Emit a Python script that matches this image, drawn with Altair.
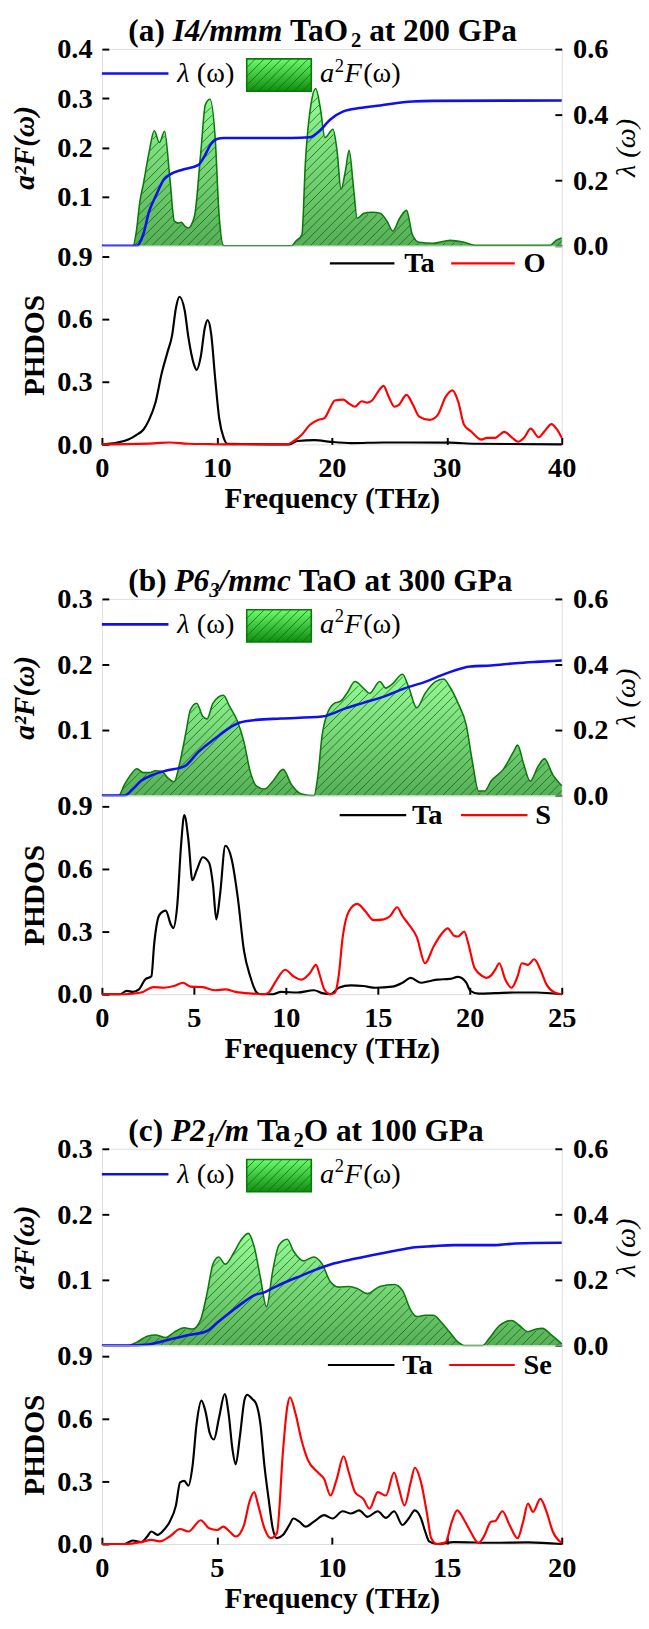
import numpy as np
import pandas as pd
import altair as alt

FONT = "Liberation Serif"
W, HT, HB = 470, 201, 203

# ------------------------- data -------------------------
# (a) I4/mmm TaO2 at 200 GPa
a_a2f_x = [0, 2.7, 3.0, 3.3, 3.6, 4.1, 4.55, 5.0, 5.45, 5.9, 6.3, 6.65, 6.9, 7.2, 7.5, 8.05, 8.6, 9.0, 9.4,
           9.85, 10.2, 10.6, 16.5, 16.9, 17.4, 17.7, 18.2, 18.6, 19.0, 19.4, 20.1, 20.45, 20.8, 21.2, 21.5,
           21.9, 22.2, 22.8, 23.5, 24.2, 24.8, 25.3, 25.9, 26.5, 27.0, 27.6, 28.8, 30.3, 31.5, 32.5, 39.0, 39.5, 40]
a_a2f_y = [0, 0, 0.03, 0.09, 0.125, 0.19, 0.234, 0.21, 0.233, 0.14, 0.05, 0.046, 0.048, 0.04, 0.036, 0.06,
           0.19, 0.287, 0.298, 0.22, 0.06, 0, 0, 0.01, 0.023, 0.17, 0.29, 0.32, 0.28, 0.22, 0.237, 0.194,
           0.115, 0.155, 0.194, 0.115, 0.056, 0.066, 0.068, 0.066, 0.05, 0.03, 0.056, 0.072, 0.023, 0.007,
           0.005, 0.011, 0.007, 0.001, 0.001, 0.011, 0.016]
a_lam_x = [0, 3.05, 3.6, 4.1, 4.7, 5.4, 5.9, 7.0, 8.4, 8.9, 9.5, 10.0, 10.6, 13.0, 16.5, 18.1, 18.8, 19.9,
           21.0, 22.4, 24.2, 27.0, 28.8, 40]
a_lam_y = [0, 0, 0.035, 0.104, 0.153, 0.203, 0.217, 0.232, 0.247, 0.272, 0.311, 0.326, 0.329, 0.329, 0.329,
           0.331, 0.346, 0.386, 0.41, 0.42, 0.428, 0.44, 0.442, 0.443]
a_ta_x = [0, 1.25, 2.3, 3.05, 3.6, 4.1, 4.66, 5.2, 5.7, 6.1, 6.45, 6.74, 7.2, 7.5, 8.0, 8.24, 8.6, 8.96, 9.2,
          9.5, 9.86, 10.2, 10.6, 10.9, 16.3, 17.0, 18.5, 19.9, 21.7, 24.5, 26.7, 30.3, 32.5, 40]
a_ta_y = [0, 0.008, 0.023, 0.047, 0.07, 0.117, 0.2, 0.34, 0.44, 0.52, 0.656, 0.706, 0.64, 0.52, 0.383, 0.356,
          0.42, 0.56, 0.594, 0.53, 0.31, 0.125, 0.03, 0.003, 0, 0.016, 0.02, 0.012, 0.006, 0.009, 0.009,
          0.008, 0.003, 0]
a_o_x = [0, 4.5, 5.9, 7.5, 9.5, 10.5, 16.1, 16.7, 17.4, 18.1, 18.8, 19.35, 19.9, 20.25, 21.0, 21.5, 22.0,
         22.6, 23.1, 23.5, 24.0, 24.5, 24.9, 25.45, 25.8, 26.5, 27.05, 27.6, 28.5, 29.2, 29.9, 30.5, 31.0,
         31.5, 32.1, 33.0, 33.5, 34.2, 35.0, 35.7, 36.2, 36.7, 37.3, 38.0, 38.5, 39.1, 39.6, 40]
a_o_y = [0, 0.005, 0.009, 0.003, 0.001, 0, 0, 0.016, 0.047, 0.094, 0.117, 0.125, 0.18, 0.21, 0.214, 0.195,
         0.18, 0.206, 0.2, 0.21, 0.25, 0.28, 0.234, 0.18, 0.1875, 0.237, 0.19, 0.133, 0.117, 0.14, 0.227,
         0.258, 0.203, 0.094, 0.0625, 0.023, 0.031, 0.031, 0.06, 0.031, 0.0125, 0.03, 0.075, 0.034, 0.0625,
         0.097, 0.07, 0.031]

# (b) P6_3/mmc TaO at 300 GPa
b_a2f_x = [0, 0.9, 1.23, 1.57, 1.9, 2.24, 2.57, 2.91, 3.25, 3.58, 3.92, 4.25, 4.59, 4.81, 5.15, 5.48, 5.71,
           6.04, 6.6, 6.94, 7.39, 7.72, 8.06, 8.39, 8.84, 9.29, 9.85, 10.3, 10.85, 11.53, 11.75, 11.97, 12.2,
           12.65, 12.98, 13.32, 13.76, 14.21, 14.55, 15.11, 15.44, 15.78, 16.34, 16.67, 17.12, 17.57, 18.13,
           18.58, 18.91, 19.36, 19.81, 20.14, 20.48, 20.81, 21.15, 21.82, 22.38, 22.6, 22.94, 23.28, 23.72,
           24.06, 24.51, 25]
b_a2f_y = [0, 0, 0.017, 0.032, 0.041, 0.035, 0.035, 0.038, 0.037, 0.027, 0.021, 0.052, 0.1, 0.131, 0.141,
           0.121, 0.117, 0.141, 0.153, 0.136, 0.112, 0.082, 0.037, 0.015, 0.01, 0.022, 0.04, 0.017, 0.0025, 0,
           0.032, 0.092, 0.121, 0.141, 0.144, 0.156, 0.174, 0.164, 0.156, 0.174, 0.164, 0.17, 0.185, 0.166,
           0.134, 0.156, 0.174, 0.178, 0.166, 0.141, 0.107, 0.052, 0.007, 0.007, 0.022, 0.04, 0.067, 0.077,
           0.047, 0.022, 0.045, 0.056, 0.032, 0.015]
b_lam_x = [0, 1.23, 1.68, 2.13, 2.8, 3.47, 4.48, 5.26, 6.15, 6.83, 7.5, 8.39, 9.74, 11.97, 12.42, 13.09,
           14.21, 15.33, 16.45, 17.57, 18.69, 20.03, 21.15, 22.49, 23.61, 25]
b_lam_y = [0, 0, 0.02, 0.045, 0.064, 0.076, 0.089, 0.134, 0.174, 0.203, 0.223, 0.231, 0.235, 0.241, 0.248,
           0.263, 0.283, 0.302, 0.327, 0.347, 0.372, 0.394, 0.397, 0.404, 0.408, 0.412]
b_ta_x = [0, 1.0, 1.34, 1.68, 2.01, 2.35, 2.69, 2.84, 3.13, 3.47, 3.74, 3.87, 4.1, 4.3, 4.48, 4.7, 4.92, 5.15,
          5.48, 5.82, 6.04, 6.22, 6.42, 6.71, 7.05, 7.39, 7.72, 8.06, 8.39, 8.62, 9.29, 9.74, 10.63, 11.53,
          11.97, 12.42, 12.87, 13.54, 14.21, 14.88, 15.78, 16.34, 16.79, 17.35, 17.79, 18.24, 18.91, 19.36,
          19.81, 20.03, 20.48, 21.37, 22.49, 23.61, 25]
b_ta_y = [0, 0, 0.016, 0.011, 0.023, 0.07, 0.086, 0.24, 0.38, 0.40, 0.335, 0.316, 0.43, 0.71, 0.857, 0.74,
          0.545, 0.592, 0.655, 0.63, 0.522, 0.358, 0.475, 0.71, 0.647, 0.46, 0.21, 0.086, 0.011, 0, 0, 0.011,
          0.008, 0.019, 0.005, 0, 0.031, 0.042, 0.039, 0.031, 0.036, 0.055, 0.078, 0.055, 0.062, 0.07, 0.073,
          0.083, 0.055, 0.016, 0.003, 0.005, 0.008, 0.008, 0]
b_s_x = [0, 1.23, 2.13, 2.8, 3.36, 3.92, 4.41, 4.81, 5.48, 6.15, 6.71, 7.27, 8.17, 8.84, 9.06, 9.51, 9.96,
         10.41, 10.85, 11.3, 11.64, 11.86, 12.09, 12.42, 12.65, 12.87, 13.09, 13.43, 13.88, 14.32, 14.77,
         15.33, 15.67, 16.05, 16.34, 16.67, 17.12, 17.57, 18.02, 18.46, 18.8, 19.14, 19.36, 19.7, 19.92,
         20.26, 20.7, 20.88, 21.15, 21.4, 21.6, 21.93, 22.27, 22.6, 22.83, 23.16, 23.5, 23.84, 24.17, 24.62, 25]
b_s_y = [0, 0, 0.008, 0.034, 0.031, 0.039, 0.055, 0.036, 0.034, 0.019, 0.023, 0.011, 0.003, 0, 0.008, 0.07,
         0.117, 0.086, 0.07, 0.10, 0.14, 0.086, 0.023, 0, 0.005, 0.086, 0.273, 0.397, 0.432, 0.397, 0.354,
         0.358, 0.374, 0.416, 0.374, 0.335, 0.273, 0.148, 0.226, 0.288, 0.315, 0.28, 0.276, 0.3, 0.242, 0.125,
         0.086, 0.078, 0.089, 0.12, 0.148, 0.07, 0.031, 0.086, 0.148, 0.14, 0.167, 0.117, 0.047, 0.008, 0]

# (c) P2_1/m Ta2O at 100 GPa
c_a2f_x = [0, 1.16, 1.52, 1.97, 2.33, 2.78, 3.13, 3.58, 3.94, 4.3, 4.57, 4.83, 5.07, 5.37, 5.73, 6.0, 6.36,
           6.62, 6.89, 7.16, 7.43, 7.7, 8.06, 8.33, 8.77, 9.22, 9.58, 9.94, 10.3, 10.74, 11.1, 11.55, 12.09,
           12.71, 13.07, 13.43, 13.7, 14.06, 14.41, 14.77, 15.13, 15.49, 15.76, 16.56, 16.83, 17.28, 17.82,
           18.17, 18.53, 18.89, 19.16, 19.52, 20]
c_a2f_y = [0, 0, 0.005, 0.014, 0.016, 0.012, 0.02, 0.027, 0.025, 0.04, 0.079, 0.124, 0.135, 0.124, 0.141,
           0.158, 0.171, 0.151, 0.104, 0.059, 0.114, 0.153, 0.162, 0.144, 0.129, 0.135, 0.124, 0.097, 0.089,
           0.09, 0.087, 0.079, 0.09, 0.093, 0.084, 0.054, 0.044, 0.046, 0.046, 0.035, 0.02, 0.005, 0, 0, 0.01,
           0.03, 0.038, 0.03, 0.021, 0.025, 0.026, 0.017, 0.0025]
c_lam_x = [0, 1.16, 1.88, 2.78, 3.67, 4.57, 5.01, 5.64, 6.18, 6.62, 7.07, 7.52, 8.15, 8.68, 9.22, 9.94, 10.83,
           11.73, 12.62, 13.52, 14.41, 15.31, 17.1, 17.99, 20]
c_lam_y = [0, 0, 0.002, 0.015, 0.03, 0.044, 0.069, 0.104, 0.133, 0.153, 0.162, 0.178, 0.198, 0.213, 0.229,
           0.247, 0.262, 0.275, 0.287, 0.299, 0.303, 0.306, 0.306, 0.311, 0.313]
c_ta_x = [0, 0.98, 1.34, 1.7, 1.97, 2.15, 2.42, 2.69, 2.95, 3.22, 3.4, 3.58, 3.76, 3.94, 4.12, 4.33, 4.51,
          4.69, 4.87, 5.1, 5.34, 5.51, 5.68, 5.82, 6.0, 6.21, 6.32, 6.54, 6.71, 6.89, 7.07, 7.25, 7.43, 7.61,
          7.88, 8.15, 8.33, 8.59, 8.86, 9.22, 9.67, 10.03, 10.47, 10.83, 11.19, 11.55, 12.0, 12.35, 12.71,
          13.07, 13.34, 13.61, 13.88, 14.06, 14.23, 14.59, 15.31, 17.1, 18.53, 20]
c_ta_y = [0, 0, 0.017, 0.009, 0.036, 0.06, 0.044, 0.067, 0.107, 0.185, 0.295, 0.302, 0.279, 0.373, 0.577,
          0.686, 0.631, 0.53, 0.5, 0.608, 0.717, 0.624, 0.451, 0.381, 0.514, 0.694, 0.714, 0.694, 0.67, 0.577,
          0.373, 0.216, 0.075, 0.028, 0.044, 0.091, 0.122, 0.107, 0.083, 0.107, 0.138, 0.122, 0.157, 0.146,
          0.161, 0.13, 0.157, 0.125, 0.157, 0.091, 0.122, 0.161, 0.122, 0.06, 0.013, 0, 0.009, 0.006, 0.008, 0]
c_se_x = [0, 0.98, 1.7, 2.15, 2.51, 2.95, 3.4, 3.76, 4.3, 4.66, 5.01, 5.28, 5.55, 5.82, 6.18, 6.41, 6.62, 6.8,
          7.07, 7.34, 7.61, 7.88, 8.06, 8.18, 8.42, 8.68, 8.95, 9.4, 9.67, 9.94, 10.21, 10.51, 10.74, 11.01,
          11.37, 11.64, 12.0, 12.35, 12.71, 12.89, 13.16, 13.43, 13.61, 13.88, 14.15, 14.32, 14.59, 14.95,
          15.22, 15.45, 15.76, 16.03, 16.38, 16.65, 16.92, 17.1, 17.42, 17.73, 18.08, 18.32, 18.53, 18.75,
          19.07, 19.34, 19.61, 20]
c_se_y = [0, 0, 0.009, 0.02, 0.013, 0.036, 0.072, 0.06, 0.114, 0.075, 0.067, 0.083, 0.06, 0.036, 0.091, 0.2,
          0.248, 0.185, 0.075, 0.028, 0.052, 0.451, 0.655, 0.702, 0.624, 0.498, 0.404, 0.342, 0.31, 0.232,
          0.31, 0.42, 0.342, 0.248, 0.216, 0.169, 0.248, 0.232, 0.342, 0.279, 0.185, 0.295, 0.365, 0.295,
          0.138, 0.028, 0, 0.009, 0.107, 0.161, 0.114, 0.06, 0.005, 0.044, 0.107, 0.11, 0.157, 0.091, 0.028,
          0.107, 0.193, 0.154, 0.216, 0.154, 0.06, 0.005]

# ------------------------- styling helpers -------------------------
ONE = pd.DataFrame({"k": [0]})
GREEN_EDGE = "#0a7a0a"
HATCH = "#126612"
BLUE = "#1010ee"
RED = "#ff0000"
GRAD = alt.LinearGradient(gradient="linear",
                          stops=[alt.GradientStop(color="#6cfc6c", offset=0),
                                 alt.GradientStop(color="#0f8c0f", offset=1)],
                          x1=1, x2=1, y1=0, y2=1)

# Times/Liberation Serif advance widths (per 1000 em) for title layout
WB = {" ": 250, "(": 333, ")": 333, "a": 500, "b": 556, "c": 444, "T": 667, "O": 778, "t": 333,
      "G": 778, "P": 611}
WBI = {"I": 389, "P": 611, "m": 778, "c": 444, "/": 278}


def tw(s, italic, size):
    tab = WBI if italic else WB
    return sum(tab.get(ch, 500) for ch in s) * size / 1000.0


def title_layers(pieces, ybase, size=32, x0=27):
    out = []
    x = x0
    for txt, style in pieces:
        sub = "sub" in style
        italic = "i" in style.replace("sub", "")
        fs = size * 0.66 if sub else size
        lead = len(txt) - len(txt.lstrip(" "))
        out.append(alt.Chart(ONE).mark_text(
            text=txt.strip(), font=FONT, fontWeight="bold", fontStyle="italic" if italic else "normal",
            fontSize=fs, align="left", baseline="alphabetic", color="black"
        ).encode(x=alt.value(x + lead * 250 * fs / 1000.0), y=alt.value(ybase + (6 if sub else 0))))
        x += tw(txt, italic, fs)
    return out


def legend_text(txt, x, y, italic=False, size=29, dy=0):
    return alt.Chart(ONE).mark_text(
        text=txt, font=FONT, fontSize=size, fontStyle="italic" if italic else "normal", align="left",
        baseline="alphabetic", color="black").encode(x=alt.value(x), y=alt.value(y + dy))


def hatch_df(xs, ys, fmax, amax, spacing=9.0):
    u = np.linspace(0, W, 4000)
    f = np.interp(u, np.asarray(xs) / fmax * W, np.asarray(ys) / amax * HT)
    rows = []
    for x0 in np.arange(-HT, W, spacing):
        yl = u - x0
        ok = (yl > 0.5) & (yl < f - 1.6)
        d = np.diff(np.concatenate([[0], ok.astype(int), [0]]))
        starts = np.flatnonzero(d == 1)
        ends = np.flatnonzero(d == -1) - 1
        for s, e in zip(starts, ends):
            if e - s < 4:
                continue
            rows.append(dict(x=u[s] / W * fmax, y=yl[s] / HT * amax, x2=u[e] / W * fmax, y2=yl[e] / HT * amax))
    return pd.DataFrame(rows)


def box_hatch(bx1, bx2, by1, by2, spacing=9.0):
    h = by2 - by1
    rows = []
    for x0 in np.arange(bx1 - h, bx2, spacing):
        xa, xb = max(bx1, x0), min(bx2, x0 + h)
        if xb - xa > 2:
            rows.append(dict(px=xa, py=by2 - (xa - x0), px2=xb, py2=by2 - (xb - x0)))
    return pd.DataFrame(rows)


def axis_common(**kw):
    base = dict(offset=-7, tickSize=7, tickWidth=2, tickColor="black", domain=False, grid=False,
                labelFont=FONT, labelFontSize=29, labelFontWeight="bold", labelColor="black",
                titleFont=FONT, titleColor="black", labelOverlap=False)
    base.update(kw)
    return alt.Axis(**base)


TITLE_Y = -8


def panel(p):
    fmax, amax = p["fmax"], p["amax"]
    xs = alt.Scale(domain=[0, fmax], nice=False, zero=False)
    ya = alt.Scale(domain=[0, amax], nice=False)
    yl = alt.Scale(domain=[0, 0.6], nice=False)

    d_a2f = pd.DataFrame({"f": p["a2f"][0], "v": p["a2f"][1]})
    d_lam = pd.DataFrame({"f": p["lam"][0], "v": p["lam"][1]})

    area = alt.Chart(d_a2f).mark_area(
        interpolate="monotone", fill=GRAD, line={"color": GREEN_EDGE, "strokeWidth": 1.6}
    ).encode(
        x=alt.X("f:Q", scale=xs, axis=None),
        y=alt.Y("v:Q", scale=ya, axis=axis_common(
            orient="left", values=p["aticks"], format=".1f", title="a²F(ω)", titleFontSize=30,
            titleFontWeight="bold", titleFontStyle="italic", labelPadding=10, titlePadding=18)),
    )
    hd = hatch_df(p["a2f"][0], p["a2f"][1], fmax, amax)
    hatch = alt.Chart(hd).mark_rule(color=HATCH, strokeWidth=0.8).encode(
        x=alt.X("x:Q", scale=xs, axis=None), x2="x2:Q",
        y=alt.Y("y:Q", scale=ya, axis=None), y2="y2:Q")
    lam = alt.Chart(d_lam).mark_line(interpolate="monotone", color=BLUE, strokeWidth=2.6).encode(
        x=alt.X("f:Q", scale=xs, axis=None),
        y=alt.Y("v:Q", scale=yl, axis=axis_common(
            orient="right", values=[0, 0.2, 0.4, 0.6], format=".1f", title="λ (ω)", titleFontSize=29,
            titleFontWeight="normal", titleFontStyle="italic", titleAngle=270, titleBaseline="top",
            labelPadding=11, titlePadding=4)),
    )

    ly = p["leg_y"]
    base = ly + 9
    bx1, bx2, by1, by2 = 148, 214, ly - 15, ly + 18
    leg = [
        alt.Chart(ONE).mark_rule(color=BLUE, strokeWidth=2.6).encode(
            x=alt.value(0), x2=alt.value(68), y=alt.value(ly)),
        legend_text("λ", 77, base, italic=True),
        legend_text("(ω)", 97, base),
        alt.Chart(ONE).mark_rect(fill=GRAD, stroke=GREEN_EDGE, strokeWidth=1.6).encode(
            x=alt.value(bx1), x2=alt.value(bx2), y=alt.value(by1), y2=alt.value(by2)),
        alt.Chart(box_hatch(bx1, bx2, by1, by2)).mark_rule(color=HATCH, strokeWidth=0.8).encode(
            x=alt.X("px:Q", scale=None), x2="px2:Q", y=alt.Y("py:Q", scale=None), y2="py2:Q"),
        legend_text("a", 223, base, italic=True),
        legend_text("2", 238, base, size=19, dy=-11),
        legend_text("F", 248, base, italic=True),
        legend_text("(ω)", 267, base),
    ]

    top = alt.layer(area, hatch, lam, *leg, *title_layers(p["title"], TITLE_Y)).resolve_scale(
        y="independent").properties(width=W, height=HT)

    e1, e2 = p["elems"]
    d_dos = pd.concat([
        pd.DataFrame({"f": p["dos1"][0], "v": p["dos1"][1], "elem": e1, "col": "black"}),
        pd.DataFrame({"f": p["dos2"][0], "v": p["dos2"][1], "elem": e2, "col": RED}),
    ])
    lines = alt.Chart(d_dos).mark_line(interpolate="monotone", strokeWidth=2.2).encode(
        x=alt.X("f:Q", scale=xs, axis=axis_common(
            orient="bottom", values=p["fticks"], title="Frequency (THz)", titleFontSize=30,
            titleFontWeight="bold", labelPadding=10, titlePadding=2, labelFlush=False)),
        y=alt.Y("v:Q", scale=alt.Scale(domain=[0, 0.95], nice=False), axis=axis_common(
            orient="left", values=[0, 0.3, 0.6, 0.9], format=".1f", title="PHDOS", titleFontSize=30,
            titleFontWeight="bold", labelPadding=10, titlePadding=7)),
        color=alt.Color("col:N", scale=None),
        detail="elem:N",
    )
    L = p["dleg"]
    py = p["dleg_y"]
    dleg = [
        alt.Chart(ONE).mark_rule(color="black", strokeWidth=2.2).encode(
            x=alt.value(L[0]), x2=alt.value(L[1]), y=alt.value(py)),
        alt.Chart(ONE).mark_text(text=e1, font=FONT, fontSize=29, fontWeight="bold", align="left",
                                 baseline="middle", color="black").encode(x=alt.value(L[2]), y=alt.value(py)),
        alt.Chart(ONE).mark_rule(color=RED, strokeWidth=2.2).encode(
            x=alt.value(L[3]), x2=alt.value(L[4]), y=alt.value(py)),
        alt.Chart(ONE).mark_text(text=e2, font=FONT, fontSize=29, fontWeight="bold", align="left",
                                 baseline="middle", color="black").encode(x=alt.value(L[5]), y=alt.value(py)),
    ]
    bottom = alt.layer(lines, *dleg).properties(width=W, height=HB)
    return alt.vconcat(top, bottom, spacing=0, bounds="flush")


panels = [
    dict(fmax=40, fticks=[0, 10, 20, 30, 40], amax=0.4, aticks=[0.1, 0.2, 0.3, 0.4],
         a2f=(a_a2f_x, a_a2f_y), lam=(a_lam_x, a_lam_y), dos1=(a_ta_x, a_ta_y), dos2=(a_o_x, a_o_y),
         elems=["Ta", "O"], leg_y=25, dleg=[233, 299, 309, 357, 422, 431], dleg_y=18,
         title=[("(a) ", "b"), ("I4/mmm", "bi"), (" TaO", "b"), ("2", "sub"), (" at 200 GPa", "b")]),
    dict(fmax=25, fticks=[0, 5, 10, 15, 20, 25], amax=0.3, aticks=[0.1, 0.2, 0.3],
         a2f=(b_a2f_x, b_a2f_y), lam=(b_lam_x, b_lam_y), dos1=(b_ta_x, b_ta_y), dos2=(b_s_x, b_s_y),
         elems=["Ta", "S"], leg_y=26, dleg=[243, 311, 317, 367, 435, 443], dleg_y=20,
         title=[("(b) ", "b"), ("P6", "bi"), ("3", "subi"), ("/mmc", "bi"), (" TaO at 300 GPa", "b")]),
    dict(fmax=20, fticks=[0, 5, 10, 15, 20], amax=0.3, aticks=[0.1, 0.2, 0.3],
         a2f=(c_a2f_x, c_a2f_y), lam=(c_lam_x, c_lam_y), dos1=(c_ta_x, c_ta_y), dos2=(c_se_x, c_se_y),
         elems=["Ta", "Se"], leg_y=26, dleg=[231, 299, 307, 355, 422, 431], dleg_y=20,
         title=[("(c) ", "b"), ("P2", "bi"), ("1", "subi"), ("/m", "bi"), (" Ta", "b"), ("2", "sub"),
                ("O at 100 GPa", "b")]),
]

chart = alt.vconcat(*[panel(p) for p in panels], spacing=51).properties(
    padding={"left": 1, "right": 0, "top": -11, "bottom": 5}
).configure_view(stroke="black", strokeWidth=2.2).configure(background="white")

chart.save("out.html", embed_options={"renderer": "svg", "actions": False})
